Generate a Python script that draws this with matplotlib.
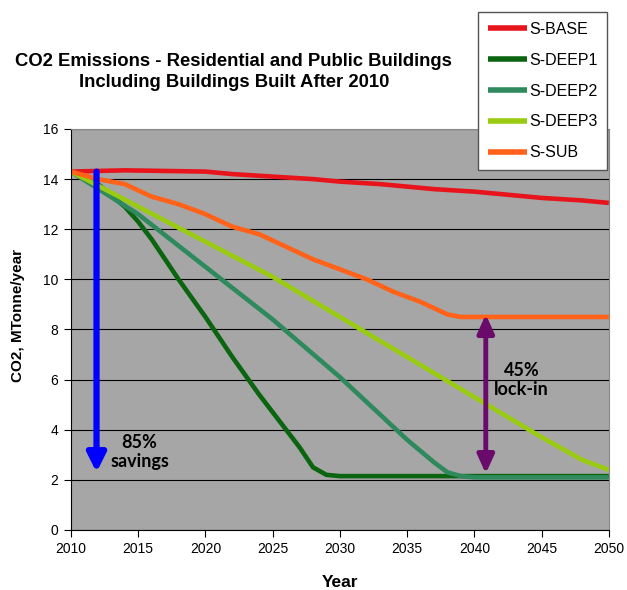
import numpy as np
import matplotlib
matplotlib.use("Agg")
import matplotlib.pyplot as plt

plt.rcParams["font.family"] = ["Liberation Sans", "DejaVu Sans"]

years = np.arange(2010, 2051)

# values, at key years (every point is a year on the chart)
base_yrs = [2010, 2014, 2020, 2022, 2025, 2028, 2030, 2033, 2037, 2040, 2042, 2045, 2048, 2050]
base_val = [14.3, 14.35, 14.3, 14.2, 14.1, 14.0, 13.9, 13.8, 13.6, 13.5, 13.4, 13.25, 13.15, 13.05]

deep1_yrs = [2010, 2012, 2014, 2015, 2016, 2018, 2020, 2022, 2024, 2026, 2027, 2028, 2029, 2030, 2050]
deep1_val = [14.3, 13.8, 12.9, 12.3, 11.6, 10.0, 8.5, 6.9, 5.4, 4.0, 3.3, 2.5, 2.2, 2.15, 2.15]

deep2_yrs = [2010, 2015, 2020, 2025, 2030, 2035, 2037, 2038, 2039, 2040, 2050]
deep2_val = [14.3, 12.6, 10.5, 8.4, 6.1, 3.6, 2.7, 2.3, 2.15, 2.1, 2.1]

deep3_yrs = [2010, 2015, 2020, 2025, 2030, 2035, 2040, 2045, 2048, 2050]
deep3_val = [14.3, 12.9, 11.5, 10.1, 8.5, 6.9, 5.3, 3.7, 2.8, 2.4]

sub_yrs = [2010, 2012, 2014, 2016, 2018, 2020, 2022, 2024, 2026, 2028, 2030, 2032, 2034, 2036, 2038, 2039, 2050]
sub_val = [14.3, 14.0, 13.8, 13.3, 13.0, 12.6, 12.1, 11.8, 11.3, 10.8, 10.4, 10.0, 9.5, 9.1, 8.6, 8.5, 8.5]

series = [("S-BASE", base_yrs, base_val, "#e8141c"),
          ("S-DEEP1", deep1_yrs, deep1_val, "#0b6510"),
          ("S-DEEP2", deep2_yrs, deep2_val, "#2e8a5c"),
          ("S-DEEP3", deep3_yrs, deep3_val, "#99cc10"),
          ("S-SUB", sub_yrs, sub_val, "#ff6218")]

# annotation arrows
save_x, save_from, save_to = 2011.9, 14.3, 2.3
lock_x, lock_from, lock_to = 2040.85, 8.6, 2.25

fig = plt.figure(figsize=(6.27, 5.9), dpi=100)
ax = fig.add_axes([0.1132, 0.1017, 0.8578, 0.6797])
ax.set_facecolor("#a6a6a6")

lines = []
for name, xs, ys, c in series:
    yv = np.interp(years, xs, ys)
    ln, = ax.plot(years, yv, color=c, lw=3.3, label=name, solid_capstyle="butt")
    lines.append(ln)

ax.set_xlim(2010, 2050); ax.set_ylim(0, 16)
ax.set_xticks(range(2010, 2051, 5)); ax.set_yticks(range(0, 17, 2))
ax.yaxis.grid(True, color="black", lw=0.8); ax.set_axisbelow(True)
ax.tick_params(labelsize=10, length=5, width=0.8, direction="out", pad=4)
for s in ["top", "right"]:
    ax.spines[s].set_color("#888888")
for s in ["left", "bottom"]:
    ax.spines[s].set_color("black")
ax.set_xlabel("Year", fontsize=12.5, fontweight="bold", va="center")
ax.xaxis.set_label_coords(0.5, -0.132)
ax.set_ylabel("CO2, MTonne/year", fontsize=11, fontweight="bold")
ax.yaxis.set_label_coords(-0.0855, 0.534)

# blue arrow: savings
ax.annotate("", xy=(save_x, save_to), xytext=(save_x, save_from),
            arrowprops=dict(arrowstyle="-|>,head_length=1.1,head_width=0.55", color="#0000ff", lw=4.5,
                            shrinkA=0, shrinkB=0))
ax.text(2015.1, 3.1, "85%\nsavings", fontsize=13, fontweight="bold", family=["Lato", "DejaVu Sans"],
        ha="center", va="center", linespacing=1.15)

# purple double arrow: lock-in
ax.annotate("", xy=(lock_x, lock_to), xytext=(lock_x, lock_from),
            arrowprops=dict(arrowstyle="<|-|>,head_length=1.1,head_width=0.5", color="#6a0a6a", lw=3.5,
                            shrinkA=0, shrinkB=0))
ax.text(2043.5, 6.0, "45%\nlock-in", fontsize=13, fontweight="bold", family=["Lato", "DejaVu Sans"],
        ha="center", va="center", linespacing=1.15)

fig.text(0.373, 0.878, "CO2 Emissions - Residential and Public Buildings\nIncluding Buildings Built After 2010",
         ha="center", va="center", fontsize=13.3, fontweight="bold", linespacing=1.25)

leg = fig.legend(handles=lines, loc="upper right", bbox_to_anchor=(607 / 627, 1 - 12 / 590),
                 fontsize=11.5, frameon=True, fancybox=False, edgecolor="#555555", framealpha=1,
                 handlelength=2.5, handletextpad=0.1, labelspacing=1.0, borderpad=0.6,
                 borderaxespad=0)
leg.get_frame().set_linewidth(1.0)
for l in leg.get_lines():
    l.set_linewidth(4)

fig.savefig("out.png", dpi=100)
